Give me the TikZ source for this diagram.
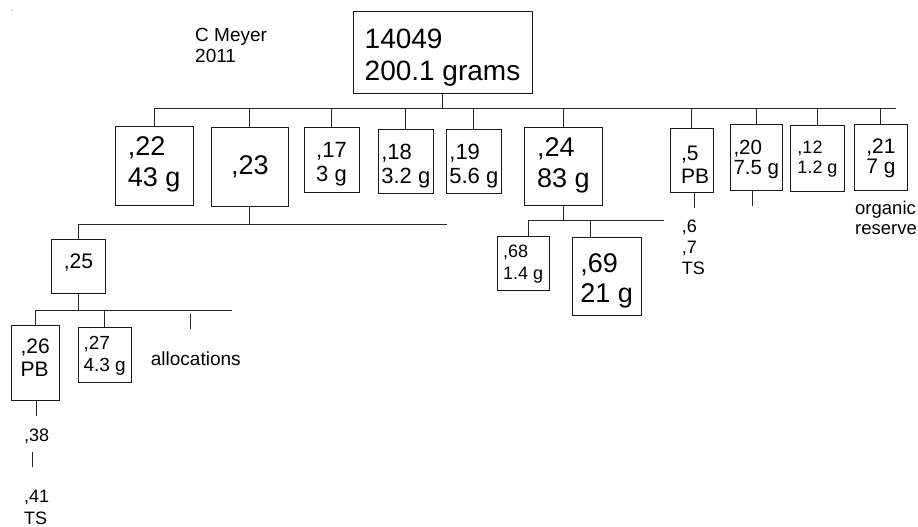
\documentclass[tikz,border=0pt]{standalone}
\usepackage{fontspec}
\setmainfont{Liberation Sans}
\newcommand\fs[2]{\fontsize{#1pt}{#2pt}\selectfont}
\newcommand\tA[1]{\rule{0pt}{#1pt}}
\newcommand\tB[1]{\rule[-#1pt]{0pt}{#1pt}}
\tikzset{
  bx/.style={draw=black!90, line width=0.9pt, inner sep=0pt, align=left},
  txt/.style={inner sep=0pt, align=left},
  ln/.style={line width=0.9pt, draw=black!85}
}
\begin{document}
\begin{tikzpicture}[x=1pt,y=-1pt]
\useasboundingbox (0,0) rectangle (918,527);
\fill[black!55] (11.7,10) circle (0.6);

% boxes
\node[bx, minimum width=179pt, minimum height=82pt, font=\fs{28}{32.5}] (root) at (442.5,52) {\tA{31}14049\\200.1 grams\tB{5.9}};
\node[bx, minimum width=78.3pt, minimum height=78.3pt, font=\fs{27}{31}] (c22) at (154.15,165.85) {\tA{19.3},22\\43 g\tB{9.4}};
\node[bx, minimum width=77.7pt, minimum height=79pt, font=\fs{27}{31}] (c23) at (249.85,166.5) {\tA{19.6},23\tB{4}};
\node[bx, minimum width=55pt, minimum height=65.7pt, font=\fs{22}{24}] (c17) at (331.5,159.85) {\tA{23.8},17\\3 g\tB{4.6}};
\node[bx, minimum width=55pt, minimum height=64.3pt, font=\fs{22}{24}] (c18) at (405.8,161.15) {\tA{24.35},18\\3.2 g\tB{4.6}};
\node[bx, minimum width=54.3pt, minimum height=64.3pt, font=\fs{22}{24}] (c19) at (473.85,161.15) {\tA{24.35},19\\5.6 g\tB{4.6}};
\node[bx, minimum width=78pt, minimum height=78.4pt, font=\fs{27}{31}] (c24) at (563.3,166.5) {\tA{19.3},24\\83 g\tB{8.7}};
\node[bx, minimum width=43.3pt, minimum height=64pt, font=\fs{21}{23}] (c5) at (691.65,160.3) {\hspace*{7pt}\tA{22.4},5\\\hspace*{7pt}PB};
\node[bx, minimum width=52pt, minimum height=65.7pt, font=\fs{20.5}{20.5}] (c20) at (756.3,157.15) {\tA{19.3},20\\7.5 g\tB{4.3}};
\node[bx, minimum width=53.6pt, minimum height=65.3pt, font=\fs{18}{20}] (c12) at (817.5,158.35) {\tA{14.9},12\\1.2 g\tB{3.8}};
\node[bx, minimum width=53.7pt, minimum height=65.7pt, font=\fs{21}{20.5}] (c21) at (880.85,157.15) {\tA{16.6},21\\7 g\tB{4.4}};
\node[bx, minimum width=52.3pt, minimum height=54.7pt, font=\fs{18}{21.7}] (c68) at (523.15,263.35) {\tA{14.6},68\\1.4 g\tB{3.8}};
\node[bx, minimum width=69.3pt, minimum height=77.7pt, font=\fs{27}{30}] (c69) at (606.65,276.15) {\tA{28.6},69\\21 g\tB{5.7}};
\node[bx, minimum width=53.3pt, minimum height=54.7pt, font=\fs{21}{23}] (c25) at (78.35,266.35) {\tA{15},25\tB{11.1}};
\node[bx, minimum width=48.3pt, minimum height=74.3pt, font=\fs{21}{23.4}] (c26) at (35.15,362.85) {\tA{15},26\\PB\tB{10.7}};
\node[bx, minimum width=52.7pt, minimum height=54.7pt, font=\fs{19}{21.7}] (c27) at (104.65,354.65) {\tA{15.6},27\\4.3 g\tB{4}};

% free texts
\node[txt, anchor=north west, font=\fs{19}{20.7}] (meyer) at (195,28.3) {C Meyer\\2011};
\node[txt, anchor=base west, font=\fs{19}{22}] (alloc) at (150.7,365) {allocations};
\node[txt, anchor=north west, font=\fs{18}{20.8}] (ts5) at (681.7,219.8) {,6\\,7\\TS};
\node[txt, anchor=north west, font=\fs{18.5}{20}] (org) at (855,201) {organic\\reserve};
\node[txt, anchor=base west, font=\fs{18}{20}] (n38) at (24,441) {,38};
\node[txt, anchor=north west, font=\fs{18}{21.7}] (n41) at (24,490) {,41\\TS};

% bus coordinates
\coordinate (b1) at (0,108.3);
\coordinate (b1e) at (896,108.3);
\coordinate (b2) at (0,224.3);
\coordinate (b2e) at (446.7,224.3);
\coordinate (b3) at (0,310.7);
\coordinate (b3e) at (232.3,310.7);
\coordinate (b4) at (0,220);
\coordinate (b4e) at (664.3,220);
\coordinate (s68) at (528.3,220);
\coordinate (s69) at (590,220);
\coordinate (e5) at (694,207.7);
\coordinate (e20) at (752.7,206);
\coordinate (e26) at (36,416);
\coordinate (t1) at (190,314);
\coordinate (t2) at (190,329.3);
\coordinate (k1) at (32.7,451.7);
\coordinate (k2) at (32.7,466.7);

% level 1
\draw[ln] (root.south) -- (root.south |- b1);
\draw[ln] (c22.north |- b1) -- (b1e);
\foreach \n in {c22,c23,c17,c18,c19,c24,c5,c20,c12,c21}
  \draw[ln] (\n.north) -- (\n.north |- b1);

% under ,23
\draw[ln] (c23.south) -- (c23.south |- b2);
\draw[ln] (c25.north |- b2) -- (b2e);
\draw[ln] (c25.north) -- (c25.north |- b2);

% under ,25
\draw[ln] (c25.south) -- (c25.south |- b3);
\draw[ln] (c26.north |- b3) -- (b3e);
\draw[ln] (c26.north) -- (c26.north |- b3);
\draw[ln] (c27.north) -- (c27.north |- b3);
\draw[ln] (t1) -- (t2);

% under ,24
\draw[ln] (c24.south) -- (c24.south |- b4);
\draw[ln] (s68) -- (b4e);
\draw[ln] (s68) -- (s68 |- c68.north);
\draw[ln] (s69) -- (s69 |- c69.north);

% ticks
\draw[ln] (c5.south -| e5) -- (e5);
\draw[ln] (c20.south -| e20) -- (e20);
\draw[ln] (c26.south -| e26) -- (e26);
\draw[ln] (k1) -- (k2);
\end{tikzpicture}
\end{document}
